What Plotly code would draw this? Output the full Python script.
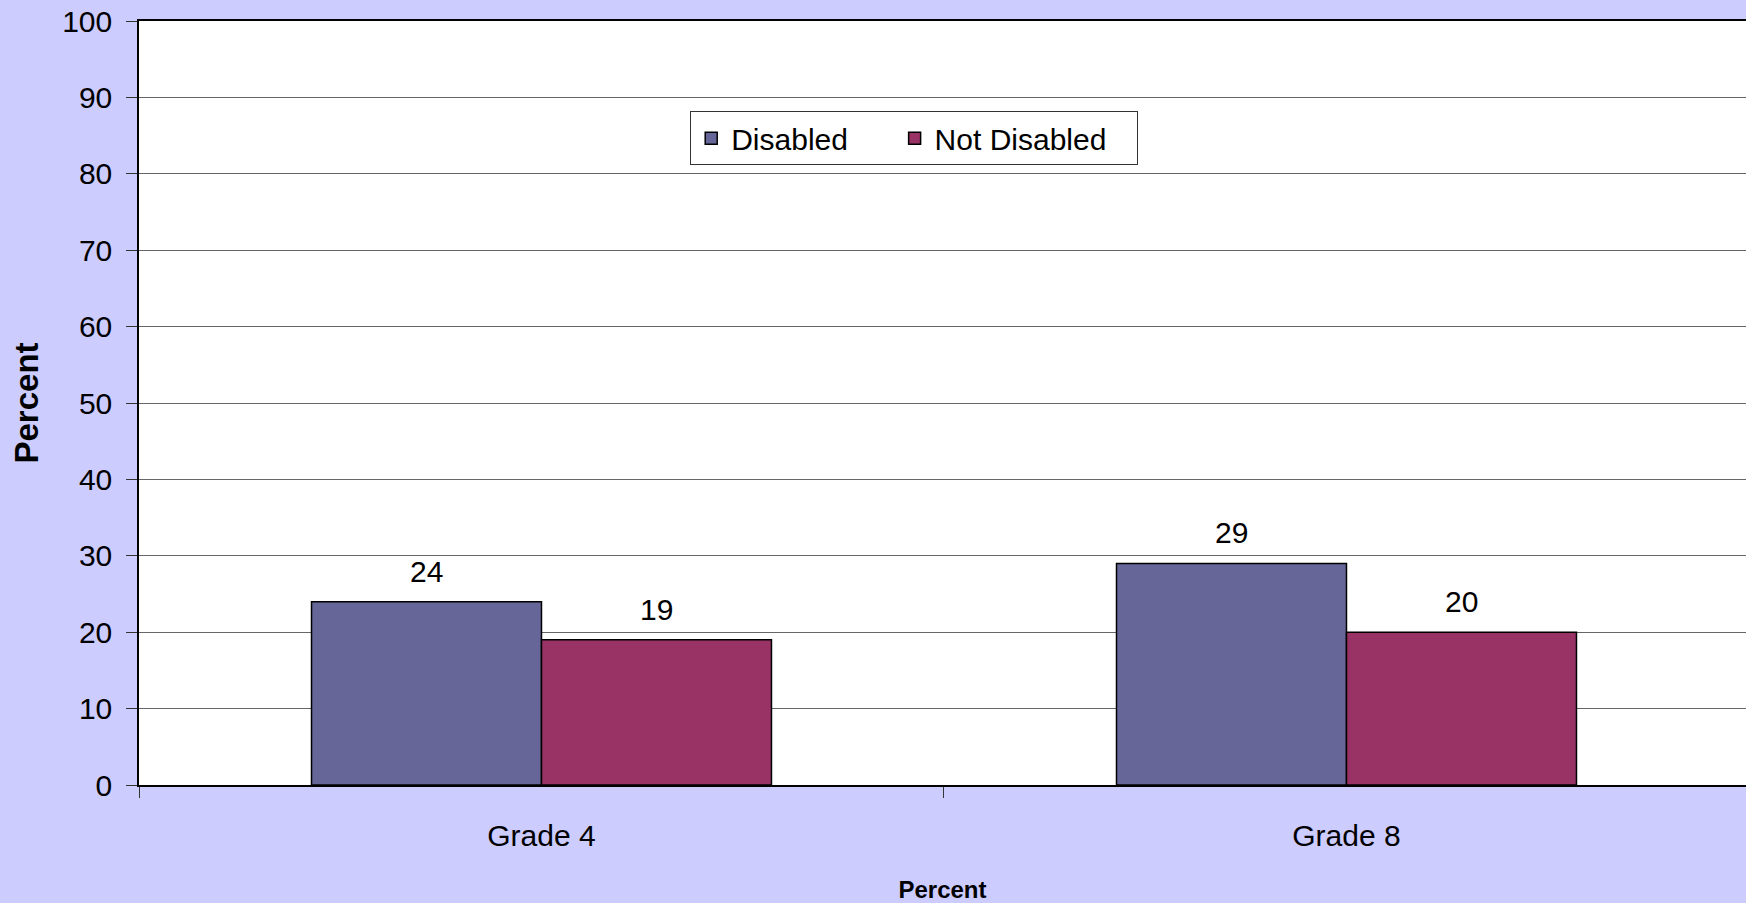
import plotly.graph_objects as go

categories = ["Grade 4", "Grade 8"]
disabled = [24, 29]
not_disabled = [19, 20]
series_names = ["Disabled", "Not Disabled"]
series_colors = ["#666699", "#993366"]
y_ticks = [0, 10, 20, 30, 40, 50, 60, 70, 80, 90, 100]

FONT = "Liberation Sans, Arial, sans-serif"
BARGAP = 0.4286
NBSP = "\u00a0"
legend_pad = [5, 3]  # trailing non-breaking spaces to widen legend entries

fig = go.Figure()
for name, vals, col, pad in zip(series_names, [disabled, not_disabled], series_colors, legend_pad):
    fig.add_trace(go.Bar(
        x=categories, y=vals, name=name + NBSP * pad,
        marker=dict(color=col, line=dict(color="black", width=1.5)),
    ))

# value labels above bars
half = (1 - BARGAP) / 4
annotations = []
for s, vals in enumerate([disabled, not_disabled]):
    off = -half if s == 0 else half
    for i, v in enumerate(vals):
        annotations.append(dict(
            x=i + off, y=v, xref="x", yref="y", text=str(v),
            showarrow=False, yanchor="bottom", yshift=12,
            font=dict(size=30, color="black", family=FONT),
        ))

fig.update_layout(
    width=1746, height=903,
    margin=dict(l=139, r=0, t=21, b=118),
    paper_bgcolor="#CCCCFF", plot_bgcolor="white",
    font=dict(family=FONT, size=30, color="black"),
    barmode="group", bargap=BARGAP, bargroupgap=0,
    showlegend=True,
    legend=dict(
        orientation="h", x=0.3430, y=0.8818, xanchor="left", yanchor="top",
        bgcolor="white", bordercolor="#333333", borderwidth=1,
        font=dict(size=30, family=FONT, color="black"),
    ),
    annotations=annotations,
)
fig.update_xaxes(
    type="category", range=[-0.5, 1.4963],
    showline=True, linecolor="black", linewidth=1.5, mirror=True,
    ticks="outside", tickson="boundaries", ticklen=11, tickcolor="#333333",
    showgrid=False,
    title=dict(text="<b>Percent</b>", font=dict(size=24, family=FONT), standoff=30),
    tickfont=dict(size=30), ticklabelstandoff=23,
)
fig.update_yaxes(
    range=[0, 100], tickvals=y_ticks,
    showline=True, linecolor="black", linewidth=1.5,
    ticks="outside", ticklen=11, tickcolor="#333333",
    showgrid=True, gridcolor="#666666", gridwidth=1, zeroline=False,
    title=dict(text="<b>Percent</b>", font=dict(size=33, family=FONT), standoff=14),
    tickfont=dict(size=30), ticklabelstandoff=8,
)

fig.write_html("out.html")
